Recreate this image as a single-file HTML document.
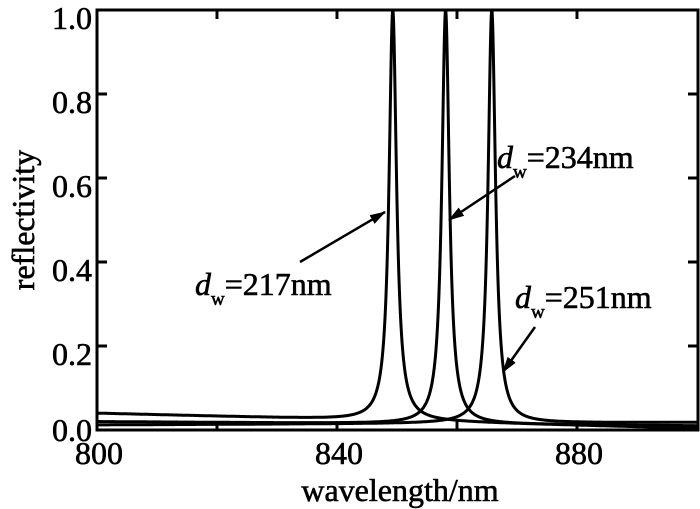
<!DOCTYPE html><html><head><style>body{margin:0;background:#fff}svg{display:block}text{font-family:"Liberation Serif",serif;fill:#000;stroke:#000;stroke-width:0.6}</style></head><body>
<svg id="s" width="700" height="509" viewBox="0 0 700 509">
<defs><marker id="a" markerWidth="16" markerHeight="10" refX="15" refY="5" orient="auto" markerUnits="userSpaceOnUse"><path d="M0,0L16,5L0,10z"/></marker></defs>
<g id="curves" fill="none" stroke="#000" stroke-width="3"></g>
<rect x="97" y="10" width="601" height="420" fill="none" stroke="#000" stroke-width="3"/>
<g stroke="#000" stroke-width="3">
<line x1="97" y1="94" x2="107" y2="94"/><line x1="97" y1="178" x2="107" y2="178"/><line x1="97" y1="262" x2="107" y2="262"/><line x1="97" y1="346" x2="107" y2="346"/>
<line x1="698" y1="94" x2="688" y2="94"/><line x1="698" y1="178" x2="688" y2="178"/><line x1="698" y1="262" x2="688" y2="262"/><line x1="698" y1="346" x2="688" y2="346"/>
<line x1="217" y1="10" x2="217" y2="19"/><line x1="337" y1="10" x2="337" y2="19"/><line x1="457" y1="10" x2="457" y2="19"/><line x1="577" y1="10" x2="577" y2="19"/>
<line x1="217" y1="430" x2="217" y2="421"/><line x1="337" y1="430" x2="337" y2="421"/><line x1="457" y1="430" x2="457" y2="421"/><line x1="577" y1="430" x2="577" y2="421"/>
</g>
<g font-size="32" text-anchor="end">
<text x="92" y="29">1.0</text><text x="92" y="113">0.8</text><text x="92" y="197">0.6</text><text x="92" y="281">0.4</text><text x="92" y="365">0.2</text><text x="92" y="441">0.0</text></g>
<g font-size="32" text-anchor="middle"><text x="99" y="464">800</text><text x="339" y="464">840</text><text x="579" y="464">880</text>
<text x="400" y="501">wavelength/nm</text>
<text transform="translate(34,220) rotate(-90)">reflectivity</text></g>
<g font-size="32">
<text x="195" y="295"><tspan font-style="italic">d</tspan><tspan font-size="19" dy="10">w</tspan><tspan dy="-10">=217nm</tspan></text>
<text x="497" y="168"><tspan font-style="italic">d</tspan><tspan font-size="19" dy="10">w</tspan><tspan dy="-10">=234nm</tspan></text>
<text x="515" y="308"><tspan font-style="italic">d</tspan><tspan font-size="19" dy="10">w</tspan><tspan dy="-10">=251nm</tspan></text>
</g>
<g stroke="#000" stroke-width="2.5" marker-end="url(#a)">
<line x1="300" y1="262" x2="385" y2="212"/>
<line x1="515" y1="176" x2="449" y2="220"/>
<line x1="535" y1="327" x2="503" y2="372"/>
</g>
</svg>
<script>
var g=document.getElementById('curves');
var P=[[849.3,0.04,0.004],[858.1,0.02,0.01],[865.8,0.012,0.018]];
P.forEach(function(p){var d='';for(var x=800;x<=900;x+=0.05){var h=0.75,L=1/(1+Math.pow((x-p[0])/h,2));var b=p[1]+(p[2]-p[1])*(x-800)/100;var r=Math.min(1,L+b*(1-L));var X=97+(x-800)*6,Y=430-420*r;d+=(d?'L':'M')+X.toFixed(1)+','+Y.toFixed(1);}
var e=document.createElementNS('http://www.w3.org/2000/svg','path');e.setAttribute('d',d);g.appendChild(e);});
</script>
</body></html>
